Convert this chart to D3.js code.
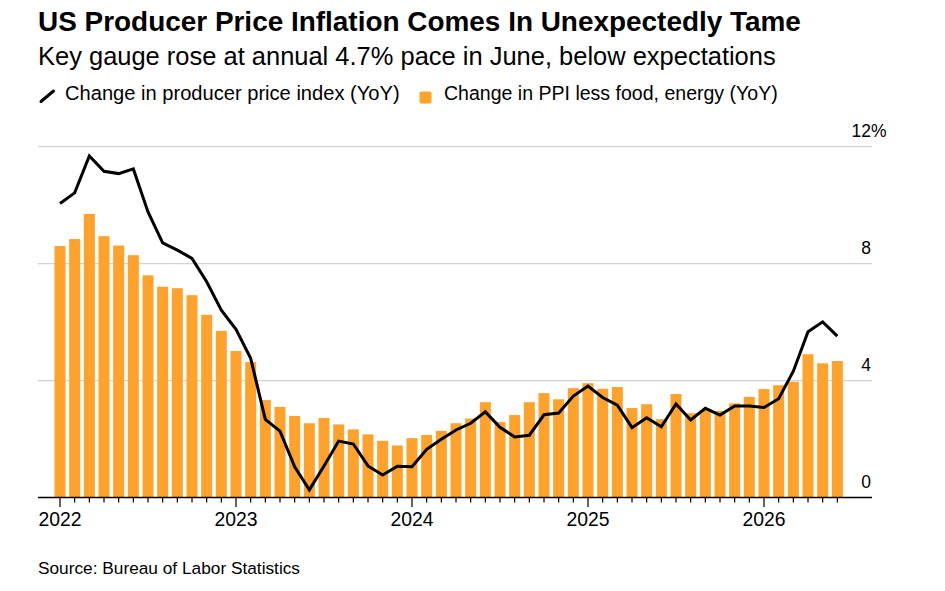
<!DOCTYPE html>
<html>
<head>
<meta charset="utf-8">
<script src="https://cdn.jsdelivr.net/npm/d3@7"></script>
<style>
  html, body { margin: 0; padding: 0; background: #fff; }
  svg { display: block; font-family: "Liberation Sans", Arial, Helvetica, sans-serif; }
</style>
</head>
<body>
<svg id="chart" width="945" height="591"></svg>
<script>
// ---- Data ----
const months = [
  "2022-01","2022-02","2022-03","2022-04","2022-05","2022-06","2022-07","2022-08","2022-09","2022-10","2022-11","2022-12",
  "2023-01","2023-02","2023-03","2023-04","2023-05","2023-06","2023-07","2023-08","2023-09","2023-10","2023-11","2023-12",
  "2024-01","2024-02","2024-03","2024-04","2024-05","2024-06","2024-07","2024-08","2024-09","2024-10","2024-11","2024-12",
  "2025-01","2025-02","2025-03","2025-04","2025-05","2025-06","2025-07","2025-08","2025-09","2025-10","2025-11","2025-12",
  "2026-01","2026-02","2026-03","2026-04","2026-05","2026-06"
];
const ppiYoY = [
  10.06, 10.42, 11.68, 11.16, 11.08, 11.24, 9.77, 8.71, 8.46, 8.18, 7.38, 6.41,
  5.75, 4.76, 2.67, 2.27, 1.05, 0.26, 1.08, 1.93, 1.83, 1.08, 0.77, 1.07,
  1.05, 1.65, 1.99, 2.31, 2.54, 2.93, 2.40, 2.07, 2.13, 2.83, 2.89, 3.47,
  3.81, 3.42, 3.16, 2.39, 2.73, 2.42, 3.20, 2.65, 3.05, 2.82, 3.13, 3.13,
  3.08, 3.38, 4.32, 5.67, 6.01, 5.52
];
const coreYoY = [
  8.60, 8.84, 9.70, 8.94, 8.62, 8.29, 7.60, 7.21, 7.16, 6.92, 6.25, 5.70,
  5.01, 4.63, 3.33, 3.10, 2.79, 2.54, 2.72, 2.50, 2.33, 2.16, 1.94, 1.78,
  2.03, 2.14, 2.28, 2.54, 2.70, 3.26, 2.58, 2.82, 3.26, 3.57, 3.36, 3.74,
  3.91, 3.72, 3.78, 3.06, 3.19, 2.68, 3.54, 2.88, 2.99, 2.96, 3.22, 3.44,
  3.71, 3.84, 3.96, 4.90, 4.59, 4.67
];
const yTicks = [0, 4, 8, 12];
const yearLabels = ["2022", "2023", "2024", "2025", "2026"];

const titleText = "US Producer Price Inflation Comes In Unexpectedly Tame";
const subtitleText = "Key gauge rose at annual 4.7% pace in June, below expectations";
const legendLine = "Change in producer price index (YoY)";
const legendBar = "Change in PPI less food, energy (YoY)";
const sourceText = "Source: Bureau of Labor Statistics";

// ---- Layout ----
const svg = d3.select("#chart");
const left = 38, right = 872;
const plotTop = 146.7, plotBottom = 497.5;
const barColor = "#ffa22b";

function fit(sel, width) {
  const w = sel.node().getComputedTextLength();
  const fs = parseFloat(sel.attr("font-size"));
  sel.attr("font-size", (fs * width / w).toFixed(2));
  return sel;
}

const x = d3.scaleBand()
  .domain(months)
  .range([52.67, 844.67])
  .paddingInner(0.25)
  .paddingOuter(0.125);
const cx = d => x(d) + x.bandwidth() / 2;

const y = d3.scaleLinear().domain([0, 12]).range([plotBottom, plotTop]);

// Titles
fit(svg.append("text").attr("x", 38).attr("y", 30.7).attr("font-size", 25)
  .attr("font-weight", "bold").attr("fill", "#000").text(titleText), 763);
fit(svg.append("text").attr("x", 38).attr("y", 65).attr("font-size", 22)
  .attr("fill", "#000").text(subtitleText), 738);

// Legend
svg.append("line").attr("x1", 41).attr("y1", 101.5).attr("x2", 53.5).attr("y2", 91)
  .attr("stroke", "#000").attr("stroke-width", 3).attr("stroke-linecap", "round");
fit(svg.append("text").attr("x", 65).attr("y", 100).attr("font-size", 18)
  .attr("fill", "#000").text(legendLine), 335);
svg.append("rect").attr("x", 419.5).attr("y", 91.5).attr("width", 12).attr("height", 12)
  .attr("rx", 2).attr("fill", barColor);
fit(svg.append("text").attr("x", 444).attr("y", 100).attr("font-size", 18)
  .attr("fill", "#000").text(legendBar), 334);

// Gridlines
const grid = svg.append("g");
grid.selectAll("line").data(yTicks.filter(d => d > 0)).join("line")
  .attr("x1", left).attr("x2", right)
  .attr("y1", d => y(d)).attr("y2", d => y(d))
  .attr("stroke", "#d3d3d3").attr("stroke-width", 1.3);

// Y labels
const yl = svg.append("g");
yTicks.forEach(t => {
  yl.append("text").attr("x", 871).attr("y", y(t) - 10)
    .attr("text-anchor", "end").attr("font-size", 17.5).attr("fill", "#000")
    .text(t);
  if (t === 12) {
    yl.append("text").attr("x", 871).attr("y", y(t) - 10)
      .attr("font-size", 17.5).attr("fill", "#000").text("%");
  }
});

// Bars
svg.append("g").selectAll("rect").data(months).join("rect")
  .attr("x", d => x(d))
  .attr("width", x.bandwidth())
  .attr("y", (d, i) => y(coreYoY[i]))
  .attr("height", (d, i) => y(0) - y(coreYoY[i]))
  .attr("fill", barColor);

// Line
const line = d3.line().x((d, i) => cx(months[i])).y(d => y(d));
svg.append("path").datum(ppiYoY)
  .attr("d", line).attr("fill", "none")
  .attr("stroke", "#000").attr("stroke-width", 3)
  .attr("stroke-linejoin", "miter");

// X axis
const xAxis = d3.axisBottom(x)
  .tickSize(5)
  .tickSizeOuter(0)
  .tickFormat(d => d.endsWith("-01") ? d.slice(0, 4) : "");
const gx = svg.append("g").attr("transform", `translate(0,${plotBottom})`).call(xAxis);
gx.select(".domain").remove();
gx.selectAll(".tick line").attr("stroke", "#000").attr("stroke-width", 1.2)
  .attr("y2", d => d.endsWith("-01") ? 9.5 : 5);
gx.selectAll(".tick text")
  .attr("font-family", "Liberation Sans, Arial, sans-serif")
  .attr("font-size", 18).attr("fill", "#000").attr("dy", 0).attr("y", 28.5)
  .filter(d => yearLabels.includes(d.slice(0, 4)) && d.endsWith("-01"))
  .each(function () { fit(d3.select(this), 43); });
svg.append("line").attr("x1", left).attr("x2", right)
  .attr("y1", plotBottom).attr("y2", plotBottom)
  .attr("stroke", "#000").attr("stroke-width", 1.3);

// Source
fit(svg.append("text").attr("x", 38).attr("y", 573.5).attr("font-size", 16)
  .attr("fill", "#000").text(sourceText), 262);
</script>
</body>
</html>
